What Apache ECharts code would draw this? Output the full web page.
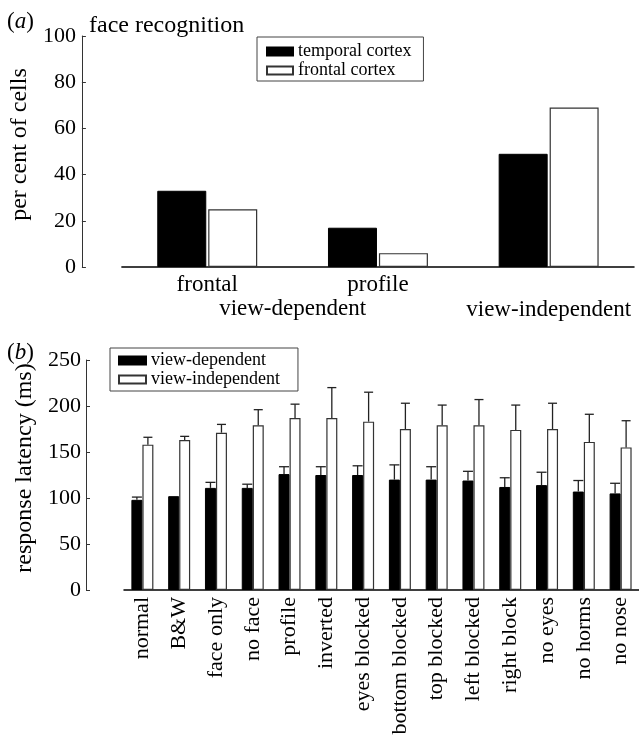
<!DOCTYPE html>
<html>
<head>
<meta charset="utf-8">
<script src="https://cdn.jsdelivr.net/npm/echarts@6/dist/echarts.min.js"></script>
<style>
html,body{margin:0;padding:0;background:#fff;}
#main{width:639px;height:749px;}
</style>
</head>
<body>
<div id="main"></div>
<script>
// ---- Panel (a) data ----
const catsA = ['frontal', 'profile', 'view-independent'];
const temporalCortex = [33, 17, 49];
const frontalCortex = [25, 6, 69];
const yTicksA = [0, 20, 40, 60, 80, 100];

// ---- Panel (b) data ----
const catsB = ['normal', 'B&W', 'face only', 'no face', 'profile', 'inverted', 'eyes blocked',
  'bottom blocked', 'top blocked', 'left blocked', 'right block', 'no eyes', 'no horms', 'no nose'];
const viewDep = [98, 102, 111, 111, 126, 125, 125, 120, 120, 119, 112, 114, 107, 105];
const viewDepErr = [3, 0, 6, 4, 8, 9, 10, 16, 14, 10, 10, 14, 12, 11];
const viewIndep = [158, 163, 171, 179, 187, 187, 183, 175, 179, 179, 174, 175, 161, 155];
const viewIndepErr = [8, 4, 9, 17, 15, 33, 32, 28, 22, 28, 27, 28, 30, 29];
const yTicksB = [0, 50, 100, 150, 200, 250];

const FONT = '"Liberation Serif", "Times New Roman", serif';
const chart = echarts.init(document.getElementById('main'), null, {renderer: 'canvas'});

function errRenderer(offset, cap) {
  return function (params, api) {
    const idx = api.value(0), v = api.value(1), e = api.value(2);
    if (!(e > 0)) return null;
    const b = api.coord([idx, v]);
    const t = api.coord([idx, v + e]);
    const x = b[0] + offset;
    const st = {stroke: '#222', lineWidth: 1.3};
    return {type: 'group', children: [
      {type: 'line', shape: {x1: x, y1: b[1], x2: x, y2: t[1]}, style: st},
      {type: 'line', shape: {x1: x - cap, y1: t[1], x2: x + cap, y2: t[1]}, style: st}
    ]};
  };
}

const option = {
  animation: false,
  backgroundColor: '#fff',
  title: [
    {text: '({i|a})', left: 7, top: 10, padding: 0,
      textStyle: {fontFamily: FONT, fontSize: 23, fontWeight: 'normal', color: '#000',
        rich: {i: {fontFamily: FONT, fontSize: 23, fontStyle: 'italic', color: '#000'}}}},
    {text: 'face recognition', left: 89, top: 14, padding: 0,
      textStyle: {fontFamily: FONT, fontSize: 24, fontWeight: 'normal', color: '#000'}},
    {text: '({i|b})', left: 7, top: 341, padding: 0,
      textStyle: {fontFamily: FONT, fontSize: 23, fontWeight: 'normal', color: '#000',
        rich: {i: {fontFamily: FONT, fontSize: 23, fontStyle: 'italic', color: '#000'}}}}
  ],
  legend: [
    {data: ['temporal cortex', 'frontal cortex'], orient: 'vertical', left: 257, top: 37,
      padding: [5, 12, 1, 9], itemGap: 0, itemWidth: 26, itemHeight: 8, icon: 'rect',
      borderColor: '#444', borderWidth: 1, selectedMode: false,
      textStyle: {fontFamily: FONT, fontSize: 18, color: '#000', lineHeight: 19}},
    {data: ['view-dependent', 'view-independent'], orient: 'vertical', left: 110, top: 348,
      padding: [3, 18, 2, 8], itemGap: 0, itemWidth: 27, itemHeight: 8, icon: 'rect',
      borderColor: '#444', borderWidth: 1, selectedMode: false,
      textStyle: {fontFamily: FONT, fontSize: 18, color: '#000', lineHeight: 19}}
  ],
  grid: [
    {left: 118, top: 36, width: 516, height: 231},
    {left: 124, top: 360, width: 515, height: 230}
  ],
  xAxis: [
    {type: 'category', gridIndex: 0, data: catsA,
      axisLine: {lineStyle: {color: '#000', width: 1.5}}, axisTick: {show: false},
      axisLabel: {fontFamily: FONT, fontSize: 23, color: '#000', margin: 5, lineHeight: 25, interval: 0,
        formatter: v => v === 'view-independent' ? '\n' + v : v}},
    {type: 'category', gridIndex: 1, data: catsB,
      axisLine: {lineStyle: {color: '#000', width: 1.5}}, axisTick: {show: false},
      axisLabel: {fontFamily: FONT, fontSize: 22, color: '#000', rotate: 90, margin: 7, interval: 0}}
  ],
  yAxis: [
    {type: 'value', gridIndex: 0, min: yTicksA[0], max: yTicksA[yTicksA.length - 1], interval: 20,
      offset: 40, splitLine: {show: false},
      axisLine: {show: true, lineStyle: {color: '#333', width: 1}},
      axisTick: {show: true, inside: true, length: 4, lineStyle: {color: '#333'}},
      axisLabel: {fontFamily: FONT, fontSize: 22, color: '#000', margin: 6},
      name: 'per cent of cells', nameLocation: 'middle', nameGap: 37, nameRotate: 90,
      nameTextStyle: {fontFamily: FONT, fontSize: 24, color: '#000', padding: [0, 0, 0, 14]}},
    {type: 'value', gridIndex: 1, min: yTicksB[0], max: yTicksB[yTicksB.length - 1], interval: 50,
      offset: 38, splitLine: {show: false},
      axisLine: {show: true, lineStyle: {color: '#333', width: 1}},
      axisTick: {show: true, inside: true, length: 4, lineStyle: {color: '#333'}},
      axisLabel: {fontFamily: FONT, fontSize: 22, color: '#000', margin: 5},
      name: 'response latency (ms)', nameLocation: 'middle', nameGap: 44, nameRotate: 90,
      nameTextStyle: {fontFamily: FONT, fontSize: 24, color: '#000', padding: [0, 0, 0, 14]}}
  ],
  series: [
    {name: 'temporal cortex', type: 'bar', xAxisIndex: 0, yAxisIndex: 0, data: temporalCortex,
      barWidth: 49, barGap: '4%', itemStyle: {color: '#000', borderColor: '#000', borderWidth: 1}},
    {name: 'frontal cortex', type: 'bar', xAxisIndex: 0, yAxisIndex: 0, data: frontalCortex,
      barWidth: 49, barGap: '4%', itemStyle: {color: '#fff', borderColor: '#333', borderWidth: 1.2}},
    {name: 'view-dependent', type: 'bar', xAxisIndex: 1, yAxisIndex: 1, data: viewDep,
      barWidth: 11, barGap: '0%', itemStyle: {color: '#000', borderColor: '#000', borderWidth: 1}},
    {name: 'view-independent', type: 'bar', xAxisIndex: 1, yAxisIndex: 1, data: viewIndep,
      barWidth: 11, barGap: '0%', itemStyle: {color: '#fff', borderColor: '#333', borderWidth: 1.2}},
    {name: 'errDep', type: 'custom', xAxisIndex: 1, yAxisIndex: 1, z: 5,
      renderItem: errRenderer(-5.5, 5), encode: {x: 0, y: 1},
      data: viewDep.map((v, i) => [i, v, viewDepErr[i]])},
    {name: 'errIndep', type: 'custom', xAxisIndex: 1, yAxisIndex: 1, z: 5,
      renderItem: errRenderer(5.5, 4.5), encode: {x: 0, y: 1},
      data: viewIndep.map((v, i) => [i, v, viewIndepErr[i]])}
  ]
};
chart.setOption(option);

// group label "view-dependent" centred under the first two categories of panel (a)
const p0 = chart.convertToPixel({xAxisIndex: 0}, catsA[0]);
const p1 = chart.convertToPixel({xAxisIndex: 0}, catsA[1]);
const yBase = chart.convertToPixel({yAxisIndex: 0}, 0);
chart.setOption({
  graphic: [{type: 'text', x: (p0 + p1) / 2, y: yBase + 42,
    style: {text: 'view-dependent', font: '23px ' + FONT, fill: '#000', textAlign: 'center', textVerticalAlign: 'middle'}}]
});
</script>
</body>
</html>
